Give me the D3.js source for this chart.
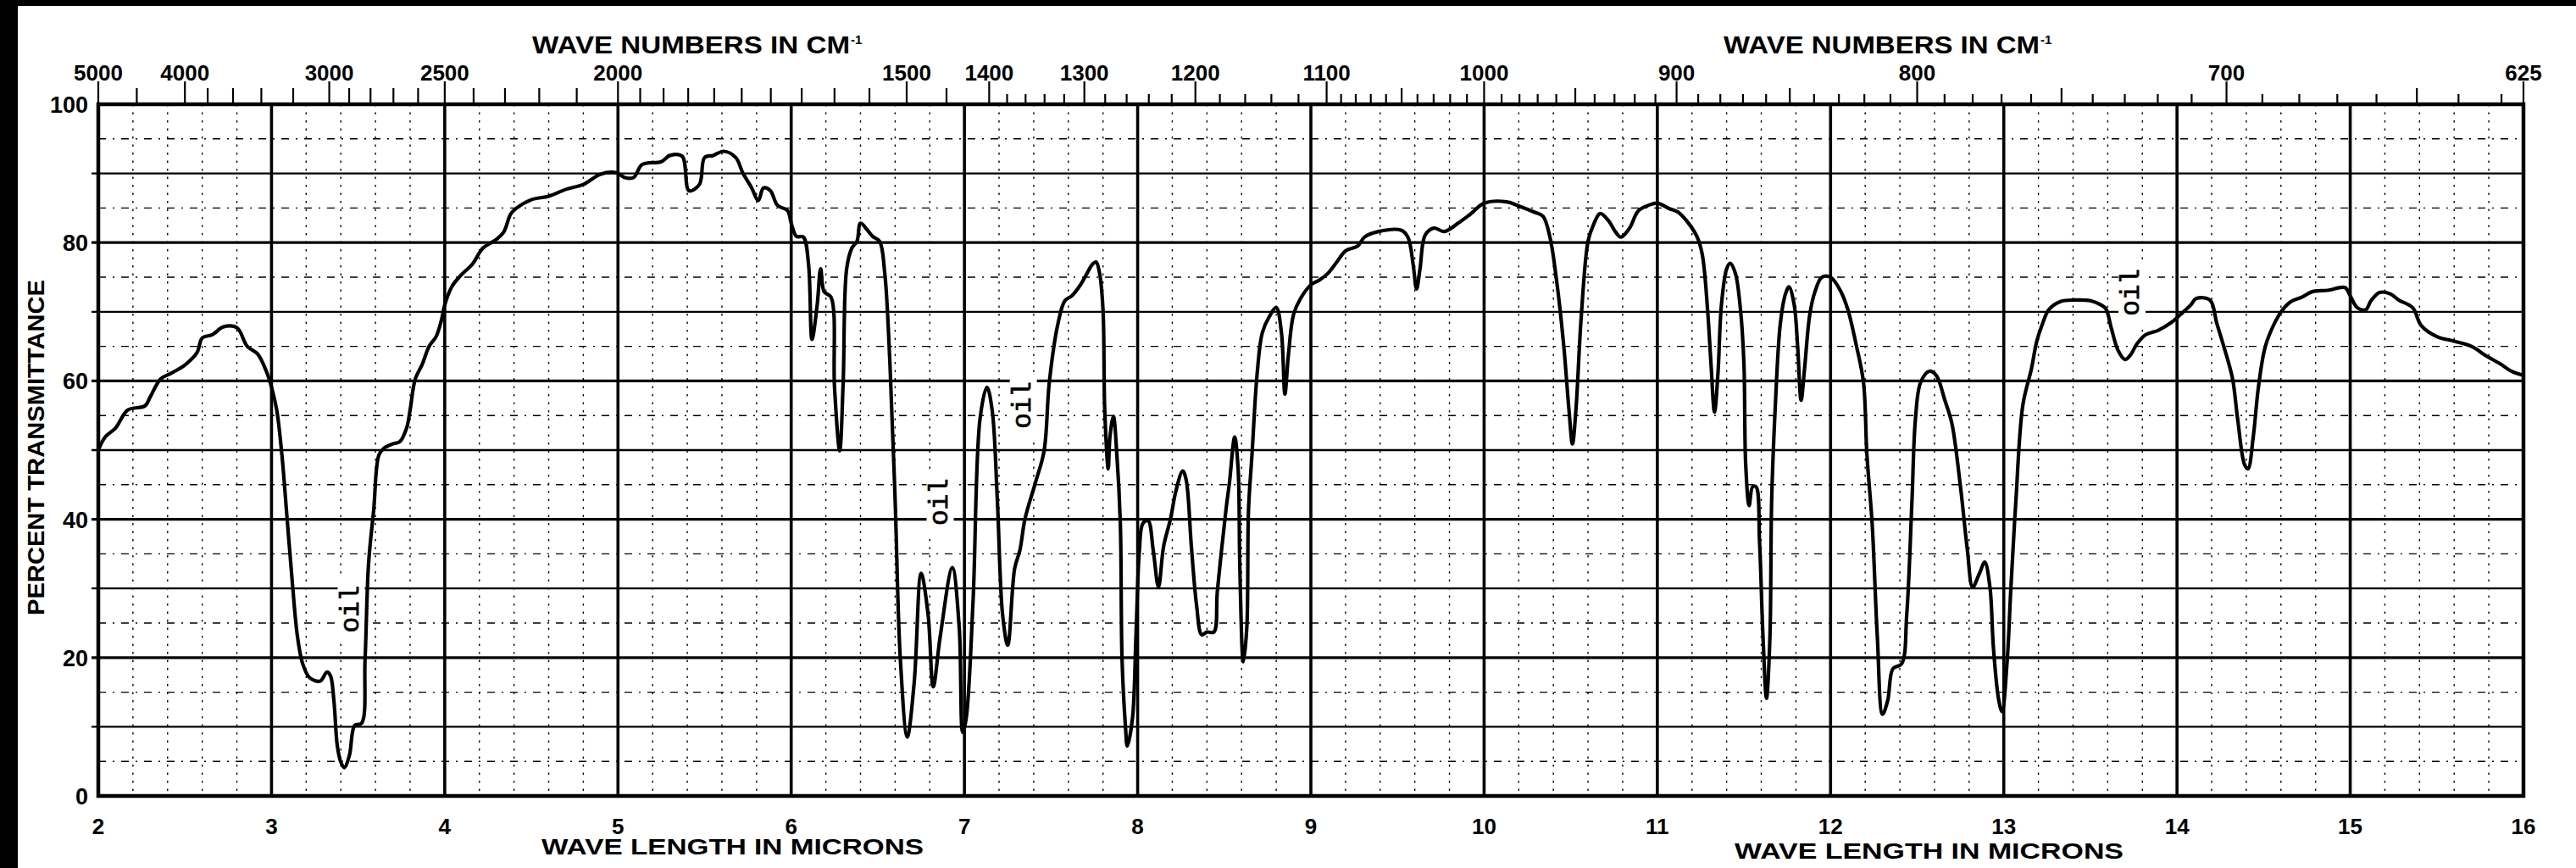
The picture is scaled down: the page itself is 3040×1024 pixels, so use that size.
<!DOCTYPE html>
<html><head><meta charset="utf-8">
<script src="https://cdn.jsdelivr.net/npm/d3@7"></script>
<style>html,body{margin:0;padding:0;background:#fff;}svg{display:block;}</style>
</head><body>
<svg id="chart" width="3040" height="1024"></svg>
<script>
// ---- data ----
const wavelength = [2.00,2.04,2.10,2.17,2.27,2.30,2.36,2.42,2.50,2.57,2.60,2.66,2.72,2.80,2.86,2.92,2.97,3.00,3.03,3.06,3.09,3.12,3.15,3.18,3.22,3.28,3.32,3.34,3.36,3.38,3.40,3.42,3.45,3.48,3.52,3.54,3.56,3.59,3.62,3.65,3.70,3.74,3.78,3.80,3.83,3.87,3.91,3.95,3.98,4.00,4.04,4.09,4.16,4.22,4.30,4.34,4.38,4.41,4.50,4.60,4.70,4.80,4.90,4.99,
5.04,5.09,5.14,5.25,5.30,5.37,5.41,5.47,5.50,5.55,5.61,5.68,5.72,5.77,5.81,5.84,5.88,5.92,5.98,6.00,6.03,6.07,6.10,6.12,6.15,6.17,6.19,6.23,6.25,6.28,6.30,6.32,6.35,6.38,6.40,6.44,6.47,6.51,6.54,6.57,6.60,6.63,6.67,6.71,6.75,6.79,6.82,6.86,6.93,6.97,6.99,7.01,7.05,7.09,7.13,7.16,7.19,7.22,7.25,7.29,7.32,7.35,7.41,7.46,7.49,7.54,
7.58,7.62,7.67,7.70,7.74,7.76,7.78,7.80,7.81,7.83,7.84,7.86,7.88,7.90,7.91,7.93,7.94,7.97,7.99,8.01,8.03,8.06,8.09,8.12,8.15,8.19,8.22,8.26,8.28,8.31,8.34,8.37,8.40,8.44,8.46,8.51,8.53,8.56,8.58,8.59,8.61,8.63,8.64,8.66,8.69,8.72,8.76,8.80,8.83,8.85,8.87,8.90,8.94,9.00,9.05,9.10,9.15,9.20,9.27,9.31,9.39,9.52,9.56,9.59,9.61,9.63,9.66,9.71,9.77,9.85,9.92,10.00,10.13,
10.20,10.29,10.34,10.38,10.42,10.46,10.49,10.51,10.53,10.56,10.60,10.63,10.67,10.72,10.76,10.79,10.84,10.89,10.95,11.00,11.07,11.12,11.18,11.23,11.26,11.29,11.31,11.33,11.35,11.37,11.40,11.42,11.45,11.48,11.50,11.51,11.53,11.55,11.57,11.59,11.61,11.63,11.65,11.66,11.68,11.71,11.74,11.76,11.79,11.81,11.83,11.85,11.88,11.91,11.95,12.00,12.06,12.10,12.15,12.19,12.21,12.24,12.27,12.30,12.33,12.36,12.41,12.44,12.47,12.49,12.52,12.57,12.61,12.66,12.70,12.75,12.79,12.82,12.86,12.89,12.92,12.94,12.97,12.99,
13.02,13.04,13.07,13.11,13.16,13.19,13.22,13.26,13.33,13.41,13.50,13.56,13.59,13.62,13.66,13.70,13.73,13.77,13.82,13.89,13.97,14.02,14.08,14.11,14.19,14.23,14.27,14.32,14.35,14.39,14.41,14.44,14.47,14.51,14.57,14.61,14.66,14.72,14.78,14.87,14.97,15.00,15.04,15.09,15.12,15.17,15.23,15.28,15.36,15.41,15.50,15.59,15.70,15.78,15.87,15.93,16.00];
const transmittance = [50.0,51.9,53.2,55.8,56.4,57.7,60.3,61.1,62.3,64.1,66.2,66.7,67.8,67.7,65.0,63.9,61.4,59.1,55.8,49.3,40.1,30.9,23.0,19.1,17.1,16.6,17.9,17.4,13.8,7.2,4.9,4.1,5.9,10.2,10.5,19.7,33.5,41.4,49.3,50.3,50.9,51.2,53.2,55.8,60.3,62.4,65.0,66.4,68.7,71.0,73.6,75.2,76.9,79.2,80.5,81.5,84.1,84.9,86.2,86.7,87.7,88.4,89.9,90.1,
89.4,89.4,91.3,91.7,92.6,92.5,87.5,88.4,92.3,92.6,93.2,92.3,90.1,88.0,86.1,87.9,87.5,85.4,84.6,82.8,80.9,80.8,76.9,66.0,71.0,76.2,72.9,72.1,59.1,49.9,59.8,76.2,79.2,80.2,82.8,81.8,80.9,80.2,75.6,62.5,42.8,19.8,8.5,16.4,32.2,26.3,15.8,23.0,33.0,24.3,9.2,11.2,28.3,54.5,59.1,55.8,42.8,26.3,21.8,32.9,35.5,40.1,45.3,49.9,59.8,68.3,
71.6,72.3,73.9,75.2,76.9,77.2,75.6,70.3,55.8,47.3,51.9,54.9,49.3,39.4,19.7,9.9,7.2,11.2,23.0,35.5,39.4,39.8,35.5,30.2,36.1,40.1,44.0,47.0,45.7,36.1,27.6,23.3,23.7,23.7,29.6,41.4,45.3,51.9,47.3,32.9,19.4,24.3,41.4,49.3,61.1,67.0,69.3,70.6,67.0,58.1,63.7,69.6,71.9,73.9,74.6,75.6,77.2,78.8,79.5,80.8,81.6,81.8,80.8,76.9,73.3,76.2,81.1,82.1,81.6,82.8,84.1,85.7,85.9,
85.3,84.4,83.8,80.8,74.2,65.0,55.8,50.9,55.8,69.0,80.2,82.5,84.2,83.1,81.5,80.8,82.1,84.6,85.4,85.7,84.9,84.4,82.8,80.8,78.2,70.3,62.4,55.5,61.1,71.0,76.2,77.0,75.6,70.3,62.4,48.0,42.0,44.7,44.7,36.8,23.0,14.1,23.0,42.7,55.8,68.3,72.6,73.6,71.0,65.0,57.2,61.8,69.6,72.9,75.0,75.0,72.9,70.3,65.0,59.8,49.3,39.4,23.0,11.8,13.8,18.4,19.1,26.3,42.7,54.5,59.8,61.4,60.8,57.2,53.9,44.7,35.5,30.2,32.2,33.8,30.2,21.5,14.0,12.2,
19.7,29.6,42.7,56.5,61.8,65.7,68.0,70.3,71.5,71.7,71.6,71.0,70.4,67.7,64.4,63.1,63.7,65.4,66.7,67.3,68.5,69.6,71.0,71.9,71.7,68.3,65.0,60.4,54.5,47.9,47.3,51.9,59.1,65.0,68.7,70.3,71.5,72.1,72.9,73.1,73.5,72.3,70.6,70.3,71.6,72.8,72.6,71.7,70.6,68.0,66.4,65.8,65.0,63.7,62.4,61.4,60.8];

const micronTicks = [2,3,4,5,6,7,8,9,10,11,12,13,14,15,16];
const percentTicks = [0,20,40,60,80,100];
const waveNumberLabels = [5000,4000,3000,2500,2000,1500,1400,1300,1200,1100,1000,900,800,700,625];
const waveNumberTicks = [5000,4500,4000,3800,3600,3400,3200,3000,2900,2800,2700,2600,2500,2400,2300,2200,2100,
  2000,1950,1900,1850,1800,1750,1700,1650,1600,1550,1500,1450,1400,1380,1360,1340,1320,1300,1280,1260,1240,1220,
  1200,1180,1160,1140,1120,1100].concat(d3.range(1090,625,-10)).concat([625]);
const oilNotes = [
  {lambda:3.46, t:27.0},
  {lambda:6.86, t:42.5},
  {lambda:7.34, t:56.5},
  {lambda:13.74, t:72.8}
];

// ---- drawing ----
const svg = d3.select("#chart");
const x = d3.scaleLinear().domain([2,16]).range([116,2978]);
const y = d3.scaleLinear().domain([0,100]).range([939,123]);
const SANS = "'Liberation Sans', Arial, 'DejaVu Sans', sans-serif";

// black scan borders
svg.append("rect").attr("x",0).attr("y",0).attr("width",3040).attr("height",7).attr("fill","#000");
svg.append("rect").attr("x",0).attr("y",0).attr("width",21).attr("height",1024).attr("fill","#000");

const grid = svg.append("g");
// minor verticals every 0.2 micron (dotted)
const minorX = d3.range(2.2,16,0.2).filter(v => Math.abs(v-Math.round(v))>0.05);
grid.selectAll(".mv").data(minorX).join("line")
  .attr("x1",d=>x(d)).attr("x2",d=>x(d)).attr("y1",y(100)).attr("y2",y(0))
  .attr("stroke","#000").attr("stroke-width",1.4).attr("stroke-dasharray","2.5,7");
// minor horizontals every 5% (dash-dot)
const minorY = d3.range(5,100,10);
grid.selectAll(".mh").data(minorY).join("line")
  .attr("x1",x(2)).attr("x2",x(16)).attr("y1",d=>y(d)).attr("y2",d=>y(d))
  .attr("stroke","#000").attr("stroke-width",1.4).attr("stroke-dasharray","9,8,2,8");
// major horizontals every 10%
const majorY = d3.range(10,100,10);
grid.selectAll(".h").data(majorY).join("line")
  .attr("x1",x(2)-8).attr("x2",x(16)).attr("y1",d=>y(d)).attr("y2",d=>y(d))
  .attr("stroke","#000").attr("stroke-width",d=> d%20===0 ? 3.2 : 2.3);
// major verticals every micron
grid.selectAll(".v").data(micronTicks.slice(1,-1)).join("line")
  .attr("x1",d=>x(d)).attr("x2",d=>x(d)).attr("y1",y(100)).attr("y2",y(0))
  .attr("stroke","#000").attr("stroke-width",3.6);
// frame
grid.append("rect").attr("x",x(2)).attr("y",y(100)).attr("width",x(16)-x(2)).attr("height",y(0)-y(100))
  .attr("fill","none").attr("stroke","#000").attr("stroke-width",4.5);

// top wavenumber ticks
const labelSet = new Set(waveNumberLabels);
svg.append("g").selectAll("line").data(waveNumberTicks).join("line")
  .attr("x1",d=>x(10000/d)).attr("x2",d=>x(10000/d))
  .attr("y1",y(100))
  .attr("y2",d=> y(100) - (labelSet.has(d) ? 27 : (d%50===0 ? 19 : 12)))
  .attr("stroke","#000").attr("stroke-width",2.2);
svg.append("g").selectAll("text").data(waveNumberLabels).join("text")
  .attr("x",d=>x(10000/d)).attr("y",95)
  .attr("text-anchor","middle")
  .attr("font-family",SANS).attr("font-weight","bold").attr("font-size",26)
  .text(d=>d);

// bottom micron labels
svg.append("g").selectAll("text").data(micronTicks).join("text")
  .attr("x",d=>x(d)).attr("y",984).attr("text-anchor","middle")
  .attr("font-family",SANS).attr("font-weight","bold").attr("font-size",26)
  .text(d=>d);

// left percent labels
svg.append("g").selectAll("text").data(percentTicks).join("text")
  .attr("x",104).attr("y",d=>y(d)+10).attr("text-anchor","end")
  .attr("font-family",SANS).attr("font-weight","bold").attr("font-size",27)
  .text(d=>d);

// titles
function title(txt, x0, x1, base, size){
  svg.append("text").attr("x",x0).attr("y",base).attr("font-family",SANS).attr("font-weight","bold")
    .attr("font-size",size).attr("textLength",x1-x0).attr("lengthAdjust","spacingAndGlyphs").text(txt);
}
title("WAVE NUMBERS IN CM",628,1003,63,29);
svg.append("text").attr("x",1004).attr("y",52).attr("font-family",SANS).attr("font-weight","bold").attr("font-size",15).text("-1");
title("WAVE NUMBERS IN CM",2034,2407,63,29);
svg.append("text").attr("x",2408).attr("y",52).attr("font-family",SANS).attr("font-weight","bold").attr("font-size",15).text("-1");
title("WAVE LENGTH IN MICRONS",639,1090,1008,25);
title("WAVE LENGTH IN MICRONS",2047,2506,1013,25);
svg.append("text").attr("transform","translate(52,528) rotate(-90)").attr("x",-198).attr("y",0)
  .attr("font-family",SANS).attr("font-weight","bold").attr("font-size",28)
  .attr("textLength",396).attr("lengthAdjust","spacingAndGlyphs").text("PERCENT TRANSMITTANCE");

// oil notes (white patches behind)
const notes = svg.append("g");
notes.selectAll("rect").data(oilNotes).join("rect")
  .attr("x",d=>x(d.lambda)-16).attr("y",d=>y(d.t)-38).attr("width",32).attr("height",76).attr("fill","#fff");
notes.selectAll("text").data(oilNotes).join("text")
  .attr("transform",d=>`translate(${x(d.lambda)},${y(d.t)}) rotate(-90)`)
  .attr("text-anchor","middle").attr("dominant-baseline","central")
  .attr("font-family","'Liberation Mono','DejaVu Sans Mono',monospace").attr("font-size",31)
  .attr("stroke","#000").attr("stroke-width",0.7)
  .text("oil");

// spectrum curve
const pts = wavelength.map((w,i)=>[w, transmittance[i]]);
const line = d3.line().x(d=>x(d[0])).y(d=>y(d[1])).curve(d3.curveCatmullRom.alpha(0.5));
svg.append("path").attr("d",line(pts)).attr("fill","none").attr("stroke","#000")
  .attr("stroke-width",4.2).attr("stroke-linejoin","round").attr("stroke-linecap","round");
</script>
</body></html>
